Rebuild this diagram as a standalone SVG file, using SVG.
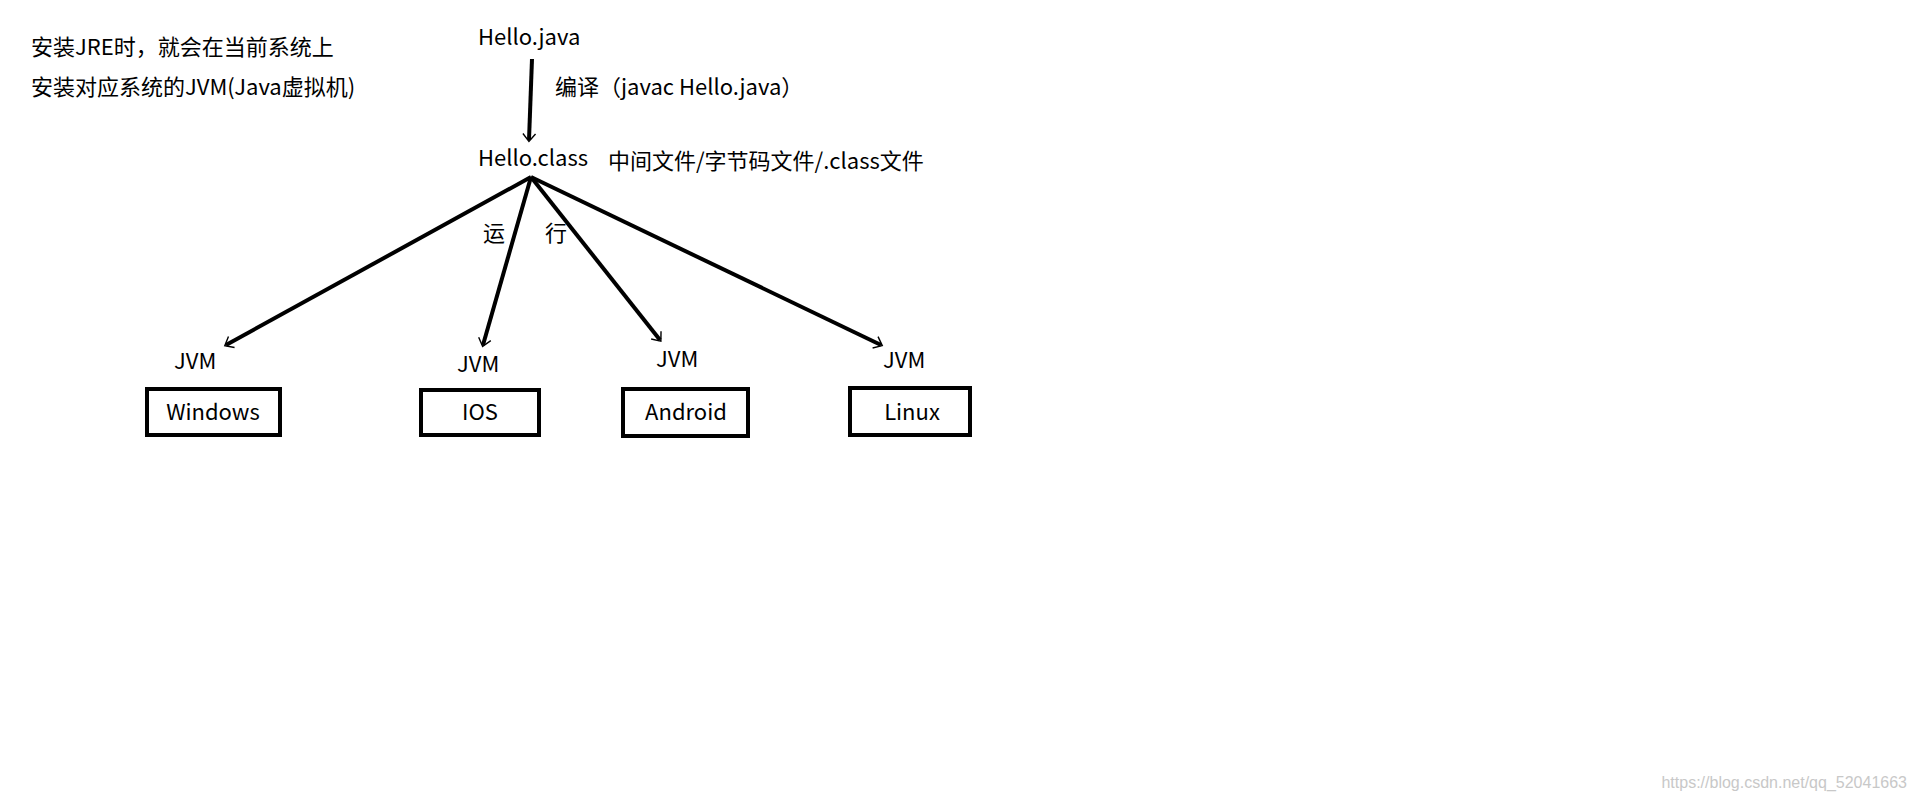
<svg xmlns="http://www.w3.org/2000/svg" width="1914" height="801" viewBox="0 0 1914 801">
<style>
text{font-family:"Microsoft YaHei","Noto Sans CJK SC","Noto Sans",sans-serif;font-size:22px;fill:#000}
.box{fill:#fff;stroke:#000;stroke-width:4}
.c{stroke:#000;stroke-width:4;fill:none;marker-end:url(#a)}
.wm{font-size:16px;fill:#c8c8c8;font-family:"Liberation Sans",sans-serif}
</style>
<defs><marker id="a" viewBox="0 0 20 20" refX="18" refY="10" markerWidth="7" markerHeight="7" orient="auto" markerUnits="userSpaceOnUse" overflow="visible"><polyline points="0,-8 22,10 0,28" fill="none" stroke="#000" stroke-width="4"/></marker></defs>
<rect width="1914" height="801" fill="#fff"/>
<text x="31" y="55">安装JRE时，就会在当前系统上</text>
<text x="31" y="95">安装对应系统的JVM(Java虚拟机)</text>
<g id="hellojava"><text x="478" y="45">Hello.java</text></g>
<g id="helloclass"><text x="478" y="166">Hello.class</text><text x="608" y="169">中间文件/字节码文件/.class文件</text></g>
<g id="connectors">
<path class="c" d="M532,59 L529,140"/>
<path class="c" d="M531,177 L226,345"/>
<path class="c" d="M531,177 L483,345"/>
<path class="c" d="M531,177 L660,340"/>
<path class="c" d="M531,177 L881,345"/>
<text x="555" y="95">编译（javac Hello.java）</text>
<text x="483" y="241">运</text><text x="545" y="241">行</text>
</g>
<g id="windows"><text x="174" y="369">JVM</text><rect class="box" x="147" y="389" width="133" height="46"/><text x="213" y="420" text-anchor="middle">Windows</text></g>
<g id="ios"><text x="457" y="372">JVM</text><rect class="box" x="421" y="390" width="118" height="45"/><text x="480" y="420" text-anchor="middle">IOS</text></g>
<g id="android"><text x="656" y="367">JVM</text><rect class="box" x="623" y="389" width="125" height="47"/><text x="686" y="420" text-anchor="middle">Android</text></g>
<g id="linux"><text x="883" y="368">JVM</text><rect class="box" x="850" y="388" width="120" height="47"/><text x="912" y="420" text-anchor="middle">Linux</text></g>
<text class="wm" x="1907" y="788" text-anchor="end">https://blog.csdn.net/qq_52041663</text>
</svg>
